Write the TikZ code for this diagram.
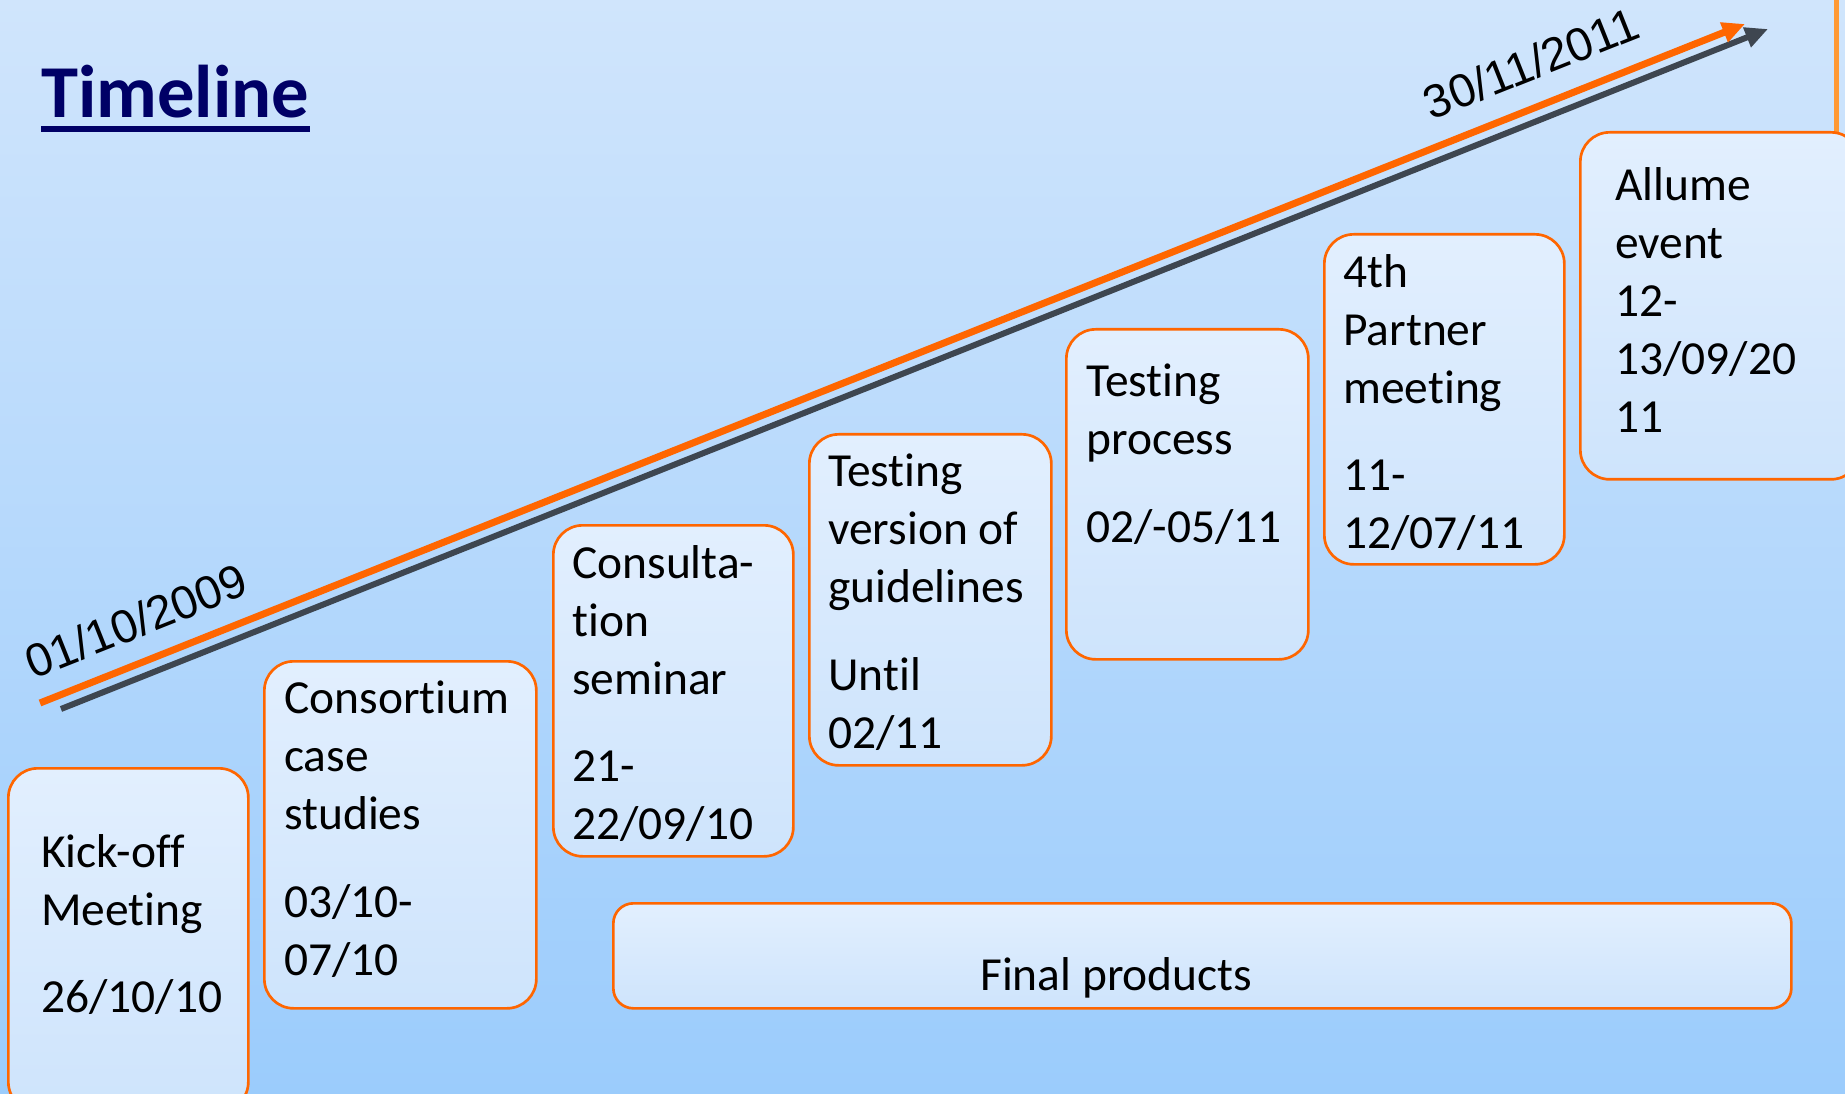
\documentclass[tikz,border=0pt]{standalone}
\usepackage{xcolor}
\usepackage{fontspec}
\setmainfont[Ligatures=CommonOff]{Carlito}
\newfontfamily\datefont{Liberation Sans}
\usepackage{tikz}
\usetikzlibrary{shapes,arrows.meta,positioning}

\definecolor{skytop}{RGB}{208,229,252}
\definecolor{skybottom}{RGB}{155,204,252}
\definecolor{cardtop}{RGB}{226,239,254}
\definecolor{cardbottom}{RGB}{206,228,252}
\definecolor{cardline}{RGB}{255,102,0}
\definecolor{edgeorange}{RGB}{255,153,51}
\definecolor{arrowgray}{RGB}{62,70,80}
\definecolor{titleblue}{RGB}{0,0,102}

\begin{document}
\begin{tikzpicture}[%
      x=0.75pt, y=-0.75pt,
      card/.style={draw=cardline, line width=2pt, rounded corners=22pt,
        top color=cardtop, bottom color=cardbottom, anchor=north west, inner sep=0pt},
      cardtext/.style={font=\fontsize{35.6}{43.5}\selectfont, align=left,
        anchor=north west, inner sep=0pt, execute at begin node=\strut},
      datelabel/.style={font=\datefont\fontsize{35}{40}\selectfont, rotate=21.7},
      timearrow/.style={-{Triangle[length=17pt,width=15pt]}}]
  \useasboundingbox (0,0) rectangle (1845,1094);
  \shade[top color=skytop, bottom color=skybottom] (0,0) rectangle (1845,1094);

  \coordinate (edgetop) at (1836,0);
  \coordinate (edgebottom) at (1836,200);
  \draw[edgeorange, line width=3.75pt] (edgetop) -- (edgebottom);

  \coordinate (graystart) at (61,709);
  \coordinate (grayend) at (1768,29);
  \coordinate (orangestart) at (40,703);
  \coordinate (orangeend) at (1745,24);
  \draw[timearrow, arrowgray, line width=4.5pt] (graystart) -- (grayend);
  \draw[timearrow, cardline, line width=5.25pt] (orangestart) -- (orangeend);

  \node[font=\fontsize{56}{60}\selectfont\bfseries, text=titleblue,
    anchor=base west, inner sep=0pt] (title) at (41,118) {Timeline};
  \draw[titleblue, line width=4.5pt] ([yshift=-8.25pt]title.base west)
    -- ([yshift=-8.25pt]title.base east);

  \node[datelabel] (startdate) at (136,621) {01/10/2009};
  \node[datelabel] (enddate) at (1531,63) {30/11/2011};

  \node[card, minimum width=180pt, minimum height=257.25pt] (kickoff) at (7,767) {};
  \node[card, minimum width=204pt, minimum height=260.25pt] (consortium) at (263,660) {};
  \node[card, minimum width=180pt, minimum height=248.25pt] (consult) at (552,524) {};
  \node[card, minimum width=181.5pt, minimum height=248.25pt] (testversion) at (808,433) {};
  \node[card, minimum width=181.5pt, minimum height=247.5pt] (testprocess) at (1065,328) {};
  \node[card, minimum width=180pt, minimum height=247.5pt] (partner) at (1323,233) {};
  \node[card, minimum width=210pt, minimum height=260.25pt] (allume) at (1579,131) {};
  \node[card, rounded corners=15pt, minimum width=883.5pt, minimum height=78.75pt] (final) at (612,902) {};

  \node[cardtext] (kickofftext) at (41,834) {Kick-off\\Meeting\\[22pt]26/10/10};
  \node[cardtext] (consortiumtext) at (284,681) {Consortium\\case\\studies\\[22pt]03/10-\\07/10};
  \node[cardtext] (consulttext) at (572,545) {Consulta-\\tion\\seminar\\[22pt]21-\\22/09/10};
  \node[cardtext] (testversiontext) at (828,454) {Testing\\version of\\guidelines\\[22pt]Until\\02/11};
  \node[cardtext] (testprocesstext) at (1086,364) {Testing\\process\\[22pt]02/-05/11};
  \node[cardtext] (partnertext) at (1343,254) {4th\\Partner\\meeting\\[22pt]11-\\12/07/11};
  \node[cardtext] (allumetext) at (1615,167) {Allume\\event\\12-\\13/09/20\\11};
  \node[cardtext] (finaltext) at (980,950) {Final products};
\end{tikzpicture}
\end{document}
